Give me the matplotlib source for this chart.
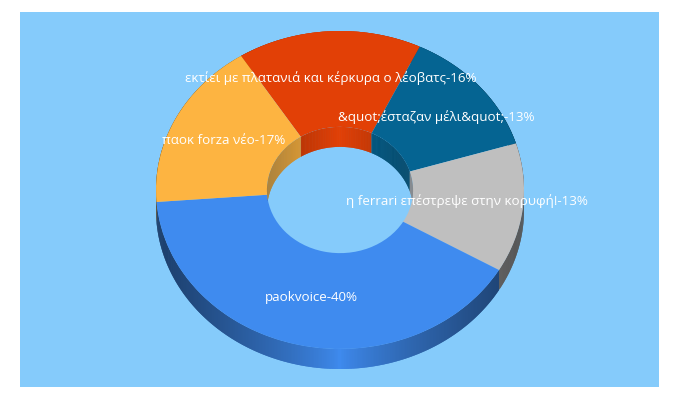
import numpy as np
import matplotlib
matplotlib.use("Agg")
import matplotlib.pyplot as plt
from matplotlib.collections import PolyCollection
from matplotlib.colors import to_rgb
from matplotlib.patches import Ellipse, Rectangle

labels = [
    "εκτίει με πλατανιά και κέρκυρα ο λέοβατς-16%",
    "&quot;έσταζαν μέλι&quot;-13%",
    "η ferrari επέστρεψε στην κορυφή!-13%",
    "paokvoice-40%",
    "παοκ forza νέο-17%",
]
values = [16, 13, 13, 40, 17]
colors = ["#E24006", "#056492", "#BFBFBF", "#3F8BEF", "#FDB441"]

# label centres in pixels
label_x = [331, 436.5, 466.5, 311.5, 224]
label_y = [78, 117, 201, 298, 140]

BG = "#85CBFB"
CX, CY = 340, 190      # ellipse centre in pixels
RX, RY = 184, 159      # outer radii in pixels
DEPTH = 20 / RY        # wall height in axes units
HOLE = 0.397
START = 122.5          # degrees, first slice, going clockwise

fig = plt.figure(figsize=(6.8, 4.0), dpi=100, facecolor="white")
fig.patches.append(Rectangle((20 / 680, 1 - 387 / 400), 639 / 680, 375 / 400,
                             transform=fig.transFigure, figure=fig,
                             facecolor=BG, edgecolor="none", zorder=-1))

ax = fig.add_axes([0, 0, 1, 1])


def wall_quads(radius, a1, a2, color, strength, power):
    # thin vertical strips, darker away from the middle of the ring
    # each strip runs over the next one so no seams show
    angles = np.radians(np.linspace(a1, a2, max(int(abs(a2 - a1) * 2), 3)))
    x = radius * np.cos(angles)
    y = radius * np.sin(angles)
    quads = []
    shades = []
    rgb = np.array(to_rgb(color))
    for i in range(len(angles) - 1):
        j = min(i + 2, len(angles) - 1)
        quads.append([(x[i], y[i]), (x[i + 1], y[i + 1]), (x[j], y[j]),
                      (x[j], y[j] - DEPTH), (x[i + 1], y[i + 1] - DEPTH),
                      (x[i], y[i] - DEPTH)])
        mid = abs(x[i] + x[i + 1]) / 2 / radius
        shades.append(rgb * (1 - strength * mid ** power))
    return quads, shades


edges = START - np.cumsum([0] + values) / sum(values) * 360

for i, color in enumerate(colors):
    quads, shades = wall_quads(1, edges[i + 1], edges[i], color, 0.56, 0.8)
    ax.add_collection(PolyCollection(quads, facecolors=shades, edgecolors="none",
                                     linewidths=0, zorder=1))

wedges, _ = ax.pie(values, colors=colors, startangle=START, counterclock=False,
                   radius=1, wedgeprops={"width": 1 - HOLE, "linewidth": 0})
for w in wedges:
    w.set_zorder(2)

hole = Ellipse((0, 0), 2 * HOLE, 2 * HOLE, transform=ax.transData,
               facecolor="none", edgecolor="none")
ax.add_patch(hole)

for i, color in enumerate(colors):
    # only the back half of the hole wall can be seen
    for lo, hi in [(0, 180), (-360, -180)]:
        b1, b2 = max(edges[i + 1], lo), min(edges[i], hi)
        if b2 <= b1:
            continue
        quads, shades = wall_quads(HOLE, b1, b2, color, 0.3, 1)
        coll = PolyCollection(quads, facecolors=shades, edgecolors="none",
                              linewidths=0, zorder=3)
        ax.add_collection(coll)
        coll.set_clip_path(hole)

ax.set_aspect("auto")
ax.set_xlim(-CX / RX, (680 - CX) / RX)
ax.set_ylim((CY - 400) / RY, CY / RY)
ax.axis("off")

for label, lx, ly in zip(labels, label_x, label_y):
    fig.text(lx / 680, 1 - ly / 400, label, color="white", fontsize=9.6,
             family="Open Sans", ha="center", va="center", zorder=5)

fig.savefig("out.png", dpi=100, facecolor="white")
